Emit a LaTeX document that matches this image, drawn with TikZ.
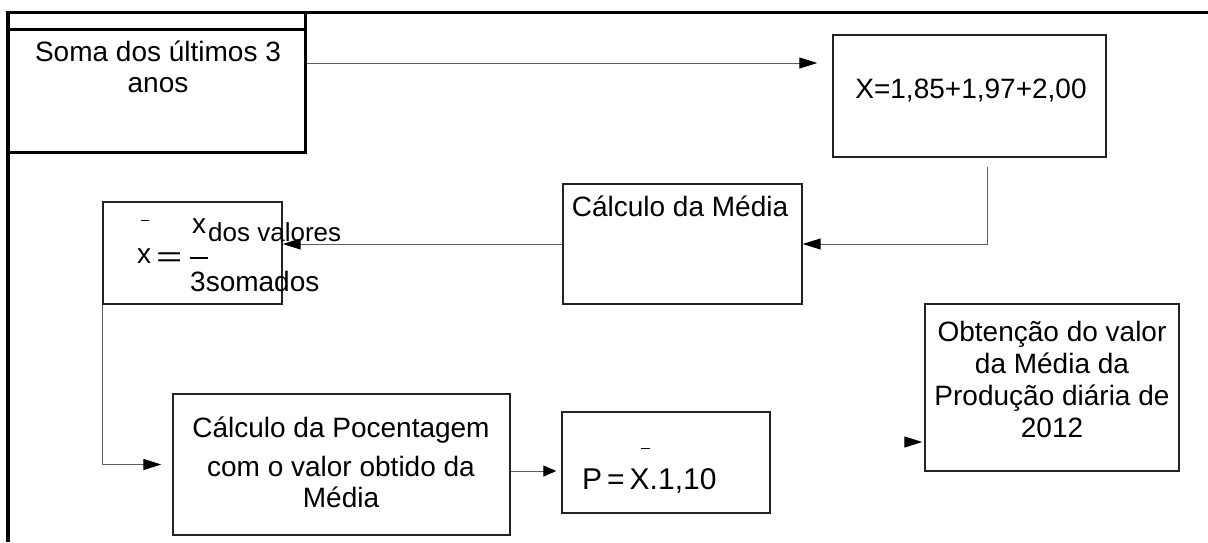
\documentclass[tikz,border=0pt]{standalone}
\usepackage{fontspec}
\setmainfont{Liberation Sans}
\usepackage{tikz}
\usetikzlibrary{positioning,arrows.meta}
\definecolor{boxcolor}{RGB}{35,35,35}
\definecolor{wirecolor}{RGB}{95,95,95}

\begin{document}
\begin{tikzpicture}[
  x=1pt,y=-1pt,
  every node/.style={font=\fontsize{28pt}{31pt}\selectfont,inner sep=0pt},
  box/.style={draw=boxcolor,line width=1.4pt,rectangle},
  wire/.style={draw=wirecolor,line width=1pt,-{Triangle[length=18pt,width=11pt,color=black]}},
  shortwire/.style={draw=wirecolor,line width=1pt,-{Triangle[length=13pt,width=11pt,color=black]}}
]
  \useasboundingbox (0,0) rectangle (1208,542);
  % page frame
  \draw[line width=3.5pt] (8,542) -- (8,12.5) -- (1208,12.5);

  % boxes
  \node[box,draw=black,line width=3pt,minimum width=297pt,minimum height=140pt] (soma) at (156.5,82) {};
  \draw[line width=3pt] ([yshift=-19pt]soma.north west) -- ([yshift=-19pt]soma.north east);
  \node[anchor=north,align=center] (somatxt) at (158,41) {Soma dos últimos 3\\anos};

  \node[box,minimum width=273pt,minimum height=122pt] (xsum) at (969.5,96) {};
  \node[anchor=base] (xsumtxt) at (971,98) {X=1,85+1,97+2,00};

  \node[box,minimum width=239pt,minimum height=120pt] (calc) at (682.5,244) {};
  \node[anchor=base] (calctxt) at (680,216) {Cálculo da Média};

  \node[box,minimum width=179pt,minimum height=102pt] (mform) at (192.5,253) {};
  \node[anchor=base west] (mx) at (137,263) {x};
  \node[anchor=base west] (meq) at (156,266) {\scalebox{1.6}[1]{=}};
  \node[anchor=base west] (mnum) at (192,233) {x};
  \node[anchor=base west,font=\fontsize{26pt}{30pt}\selectfont] (msub) at (208,241) {dos valores};
  \node[anchor=base west] (mden) at (190,291) {3somados};
  \draw[line width=1pt] (141,220) -- (149,220);
  \draw[line width=1.2pt] (190,258) -- (208,258);

  \node[box,minimum width=337pt,minimum height=141pt] (pcent) at (341.5,464.5) {};
  \node[anchor=base] (pcenta) at (341,437) {Cálculo da Pocentagem};
  \node[anchor=base] (pcentb) at (341,476) {com o valor obtido da};
  \node[anchor=base] (pcentc) at (341,507) {Média};

  \node[box,minimum width=208pt,minimum height=101pt] (pbox) at (666,462.5) {};
  \node[anchor=base west,font=\fontsize{30pt}{34pt}\selectfont] (ptxt) at (582,489) {P\,=\,X.1,10};
  \draw[line width=1pt] (641,448) -- (650,448);

  \node[box,minimum width=254pt,minimum height=167pt] (obt) at (1052,387.5) {};
  \node[anchor=north,align=center,font=\fontsize{28pt}{32pt}\selectfont] (obttxt) at (1052,321)
    {Obtenção do valor\\da Média da\\Produção diária de\\2012};

  % connectors
  \draw[wire,shorten >=15pt] ([yshift=19pt]soma.east) -- ([yshift=19pt]soma.east -| xsum.west);
  \draw[wire] ([xshift=17.5pt,yshift=-9pt]xsum.south) |- (calc.east);
  \draw[wire] (calc.west) -- (calc.west -| mform.east);
  \draw[wire,shorten >=11pt] (mform.south west) |- (pcent.west);
  \draw[shortwire,shorten >=5pt] ([yshift=-6.5pt]pcent.east) -- ([yshift=-6.5pt]pcent.east -| pbox.west);
  \coordinate (stub) at (905,442);
  \draw[wire,shorten >=2pt] (stub) -- (stub -| obt.west);
\end{tikzpicture}
\end{document}
